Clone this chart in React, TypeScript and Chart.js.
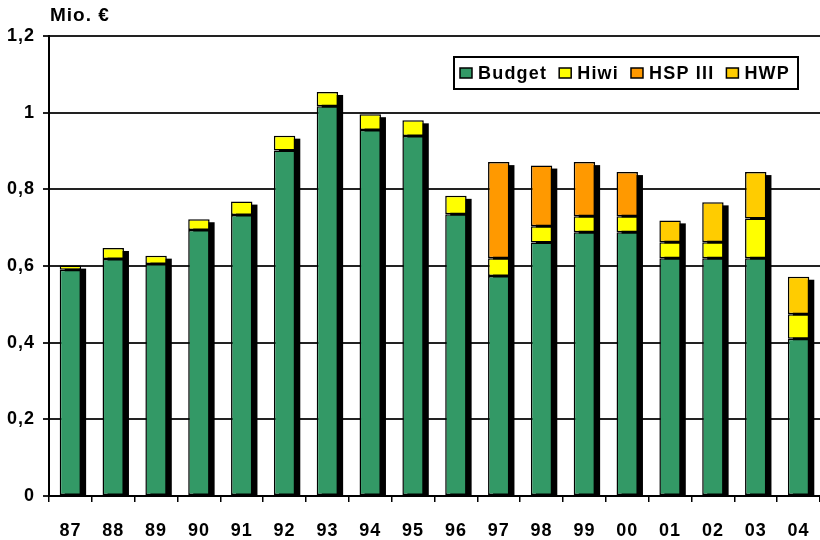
import { useEffect, useRef } from 'react';
import { Chart, registerables } from 'chart.js';

Chart.register(...registerables);

// Funding per year (Mio. €), stacked by source
const years = ['87', '88', '89', '90', '91', '92', '93', '94', '95', '96', '97', '98', '99', '00', '01', '02', '03', '04'];
const budget = [0.59, 0.618, 0.605, 0.694, 0.733, 0.901, 1.017, 0.955, 0.939, 0.735, 0.574, 0.661, 0.688, 0.688, 0.62, 0.62, 0.62, 0.41];
const hiwi = [0.011, 0.029, 0.022, 0.028, 0.035, 0.039, 0.037, 0.041, 0.041, 0.048, 0.046, 0.043, 0.042, 0.042, 0.042, 0.042, 0.104, 0.064];
const hsp3 = [null, null, null, null, null, null, null, null, null, null, 0.251, 0.158, 0.141, 0.115, null, null, null, null];
const hwp = [null, null, null, null, null, null, null, null, null, null, null, null, null, null, 0.057, 0.104, 0.121, 0.098];

const seriesLabels = ['Budget', 'Hiwi', 'HSP III', 'HWP'];
const seriesColors = ['#339966', '#FFFF00', '#FF9900', '#FFCC00'];
const yTickLabels = ['0', '0,2', '0,4', '0,6', '0,8', '1', '1,2'];
const unitLabel = 'Mio. €';

const FONT_FAMILY = '"Liberation Sans", Arial, Helvetica, sans-serif';
const boldFont = (size: number) => `bold ${size}px ${FONT_FAMILY}`;

// Slightly tracked-out text everywhere on the canvas
const trackingPlugin = {
  id: 'tracking',
  beforeLayout(chart: any) {
    chart.ctx.letterSpacing = '1px';
  },
  beforeDraw(chart: any) {
    chart.ctx.letterSpacing = '1px';
  },
};

// Solid black drop shadow behind each stacked column
const shadowPlugin = {
  id: 'barShadow',
  beforeDatasetsDraw(chart: any) {
    const ctx = chart.ctx;
    const base = chart.scales.y.getPixelForValue(0);
    const n = chart.data.labels.length;
    ctx.save();
    ctx.fillStyle = '#000';
    for (let i = 0; i < n; i++) {
      let top = Infinity;
      let x = 0;
      let w = 0;
      chart.data.datasets.forEach((ds: any, di: number) => {
        if (ds.data[i] == null) return;
        const el = chart.getDatasetMeta(di).data[i];
        const p = el.getProps(['x', 'y', 'width'], true);
        if (p.y < top) top = p.y;
        x = p.x;
        w = p.width;
      });
      if (top === Infinity) continue;
      ctx.fillRect(x - w / 2 + 5, top + 3, w, base - top - 3);
    }
    ctx.restore();
  },
};

// Boxed legend inside the plot area, plus the unit label above the y axis
const decorPlugin = {
  id: 'decor',
  afterDraw(chart: any) {
    const ctx = chart.ctx;
    const area = chart.chartArea;
    ctx.save();
    ctx.letterSpacing = '1px';

    // unit label
    ctx.font = boldFont(19);
    ctx.fillStyle = '#000';
    ctx.textAlign = 'left';
    ctx.textBaseline = 'middle';
    ctx.fillText(unitLabel, area.left + 1, area.top - 20);

    // legend
    ctx.font = boldFont(18);
    ctx.letterSpacing = '1.2px';
    const sq = 12;
    const sqGap = 6;
    const itemGap = 12;
    const padX = 6;
    const widths = chart.data.datasets.map((ds: any) => ctx.measureText(ds.label).width);
    const count = chart.data.datasets.length;
    const contentW = widths.reduce((a: number, b: number) => a + b, 0) + count * (sq + sqGap) + (count - 1) * itemGap;
    const boxW = contentW + padX * 2 + 2;
    const boxH = 32;
    const boxRight = area.right - 22;
    const boxLeft = boxRight - boxW;
    const boxTop = area.top + 21;
    ctx.fillStyle = '#fff';
    ctx.fillRect(boxLeft, boxTop, boxW, boxH);
    ctx.lineWidth = 2;
    ctx.strokeStyle = '#000';
    ctx.strokeRect(boxLeft, boxTop, boxW, boxH);

    const cy = boxTop + boxH / 2;
    let x = boxLeft + padX;
    chart.data.datasets.forEach((ds: any, i: number) => {
      ctx.fillStyle = ds.backgroundColor;
      ctx.fillRect(x, cy - sq / 2 + 1, sq, sq - 2);
      ctx.lineWidth = 1.5;
      ctx.strokeStyle = '#000';
      ctx.strokeRect(x, cy - sq / 2 + 1, sq, sq - 2);
      ctx.fillStyle = '#000';
      ctx.textAlign = 'left';
      ctx.textBaseline = 'middle';
      ctx.fillText(ds.label, x + sq + sqGap, cy + 1);
      x += sq + sqGap + widths[i] + itemGap;
    });
    ctx.restore();
  },
};

export default function App() {
  const canvasRef = useRef<HTMLCanvasElement | null>(null);

  useEffect(() => {
    const canvas = canvasRef.current;
    if (!canvas) return;
    const seriesData = [budget, hiwi, hsp3, hwp];
    const chart = new Chart(canvas, {
      type: 'bar',
      data: {
        labels: years,
        datasets: seriesData.map((data, i) => ({
          label: seriesLabels[i],
          data,
          backgroundColor: seriesColors[i],
          borderColor: '#000',
          borderWidth: 1.5,
          borderSkipped: false,
          barPercentage: 0.5,
          categoryPercentage: 1.0,
        })),
      },
      options: {
        responsive: false,
        devicePixelRatio: 1,
        animation: false,
        layout: { padding: { top: 36, left: 0, right: 0, bottom: 0 } },
        plugins: {
          legend: { display: false },
          title: { display: false },
          tooltip: { enabled: false },
        },
        scales: {
          x: {
            stacked: true,
            grid: {
              display: true,
              drawOnChartArea: false,
              drawTicks: true,
              tickLength: 6,
              color: '#000',
              lineWidth: 1.5,
            },
            border: { display: true, color: '#000', width: 2 },
            ticks: {
              font: { family: FONT_FAMILY, size: 18, weight: 'bold' },
              color: '#000',
              padding: 18,
              maxRotation: 0,
              autoSkip: false,
            },
            afterFit(scale: any) {
              // plot runs right up to the canvas edge
              scale.height = 44;
              scale.paddingLeft = 0;
              scale.paddingRight = 0;
            },
          },
          y: {
            stacked: true,
            min: 0,
            max: 1.2,
            grid: { color: '#222', lineWidth: 2, tickLength: 6 },
            border: { display: true, color: '#000', width: 2 },
            ticks: {
              stepSize: 0.2,
              font: { family: FONT_FAMILY, size: 18, weight: 'bold' },
              color: '#000',
              padding: 8,
              callback: (_v: any, i: number) => yTickLabels[i],
            },
            afterFit(scale: any) {
              scale.width = 49;
            },
          },
        },
      },
      plugins: [trackingPlugin, shadowPlugin, decorPlugin],
    } as any);
    return () => chart.destroy();
  }, []);

  return (
    <div style={{ position: 'absolute', left: 0, top: 0, width: 820, height: 540, background: '#fff' }}>
      <canvas ref={canvasRef} width={820} height={540} style={{ display: 'block', width: 820, height: 540 }} />
    </div>
  );
}
